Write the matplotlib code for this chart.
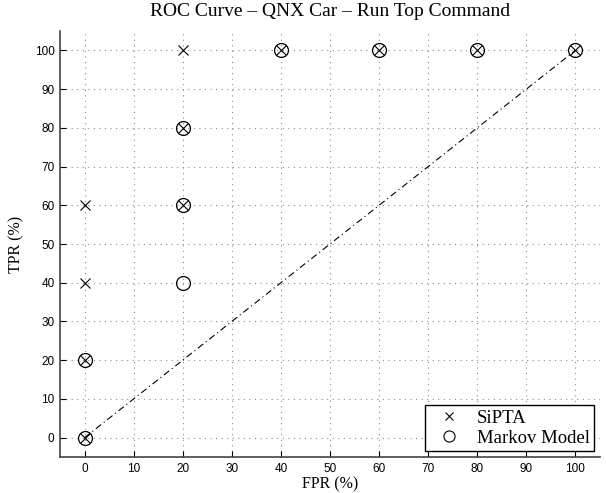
import matplotlib

matplotlib.use("Agg")

import matplotlib.pyplot as plt
from matplotlib.lines import Line2D

# SiPTA operating points (FPR %, TPR %)
sipta_fpr = [0, 0, 0, 0, 20, 20, 20, 40, 60, 80, 100]
sipta_tpr = [0, 20, 40, 60, 60, 80, 100, 100, 100, 100, 100]

# Markov model operating points
markov_fpr = [0, 0, 20, 20, 20, 40, 60, 80, 100]
markov_tpr = [0, 20, 40, 60, 80, 100, 100, 100, 100]

chance = [0, 100]
ticks = list(range(0, 101, 10))

SERIF = "Liberation Serif"
SANS = "Liberation Sans"

fig = plt.figure(figsize=(6.06, 4.93), dpi=100, facecolor="white")
ax = fig.add_axes([0.099, 0.073, 0.891, 0.864])

ax.plot(chance, chance, color="black", linestyle="-.", linewidth=0.8, dashes=(6, 3, 1, 3))
ax.plot(sipta_fpr, sipta_tpr, linestyle="none", marker="x", markersize=7,
        markeredgewidth=0.8, color="black")
ax.plot(markov_fpr, markov_tpr, linestyle="none", marker="o", markersize=10,
        markeredgewidth=0.9, markerfacecolor="none", markeredgecolor="black")

ax.set_xlim(-5, 105)
ax.set_ylim(-5, 105)
ax.set_xticks(ticks)
ax.set_yticks(ticks)
ax.grid(True, color="#8a8a8a", linestyle=(0, (1, 4)), linewidth=0.8)
ax.spines[["top", "right"]].set_visible(False)
ax.spines[["left", "bottom"]].set_color("#444444")
ax.spines[["left", "bottom"]].set_linewidth(1.2)
ax.tick_params(direction="in", length=4, width=0.8, labelsize=8.5, pad=4)
for label in ax.get_xticklabels() + ax.get_yticklabels():
    label.set_fontfamily(SANS)

ax.set_title("ROC Curve \u2013 QNX Car \u2013 Run Top Command", fontsize=14,
             family=SERIF, pad=11)
ax.set_xlabel("FPR (%)", fontsize=11.5, family=SERIF, labelpad=1)
ax.set_ylabel("TPR (%)", fontsize=11.5, family=SERIF, labelpad=7)

handles = [
    Line2D([], [], linestyle="none", marker="x", markersize=5.5, markeredgewidth=0.8,
           color="black"),
    Line2D([], [], linestyle="none", marker="o", markersize=8, markeredgewidth=0.8,
           markerfacecolor="none", markeredgecolor="black"),
]
legend = ax.legend(handles, ["SiPTA", "Markov Model"], loc="lower right",
                   prop={"family": SERIF, "size": 13.5}, fancybox=False,
                   framealpha=1, edgecolor="black", borderpad=0.25,
                   handletextpad=0.5, labelspacing=0.15, borderaxespad=0.3)
legend.get_frame().set_linewidth(1.0)

fig.savefig("out.png", dpi=100, facecolor="white")
